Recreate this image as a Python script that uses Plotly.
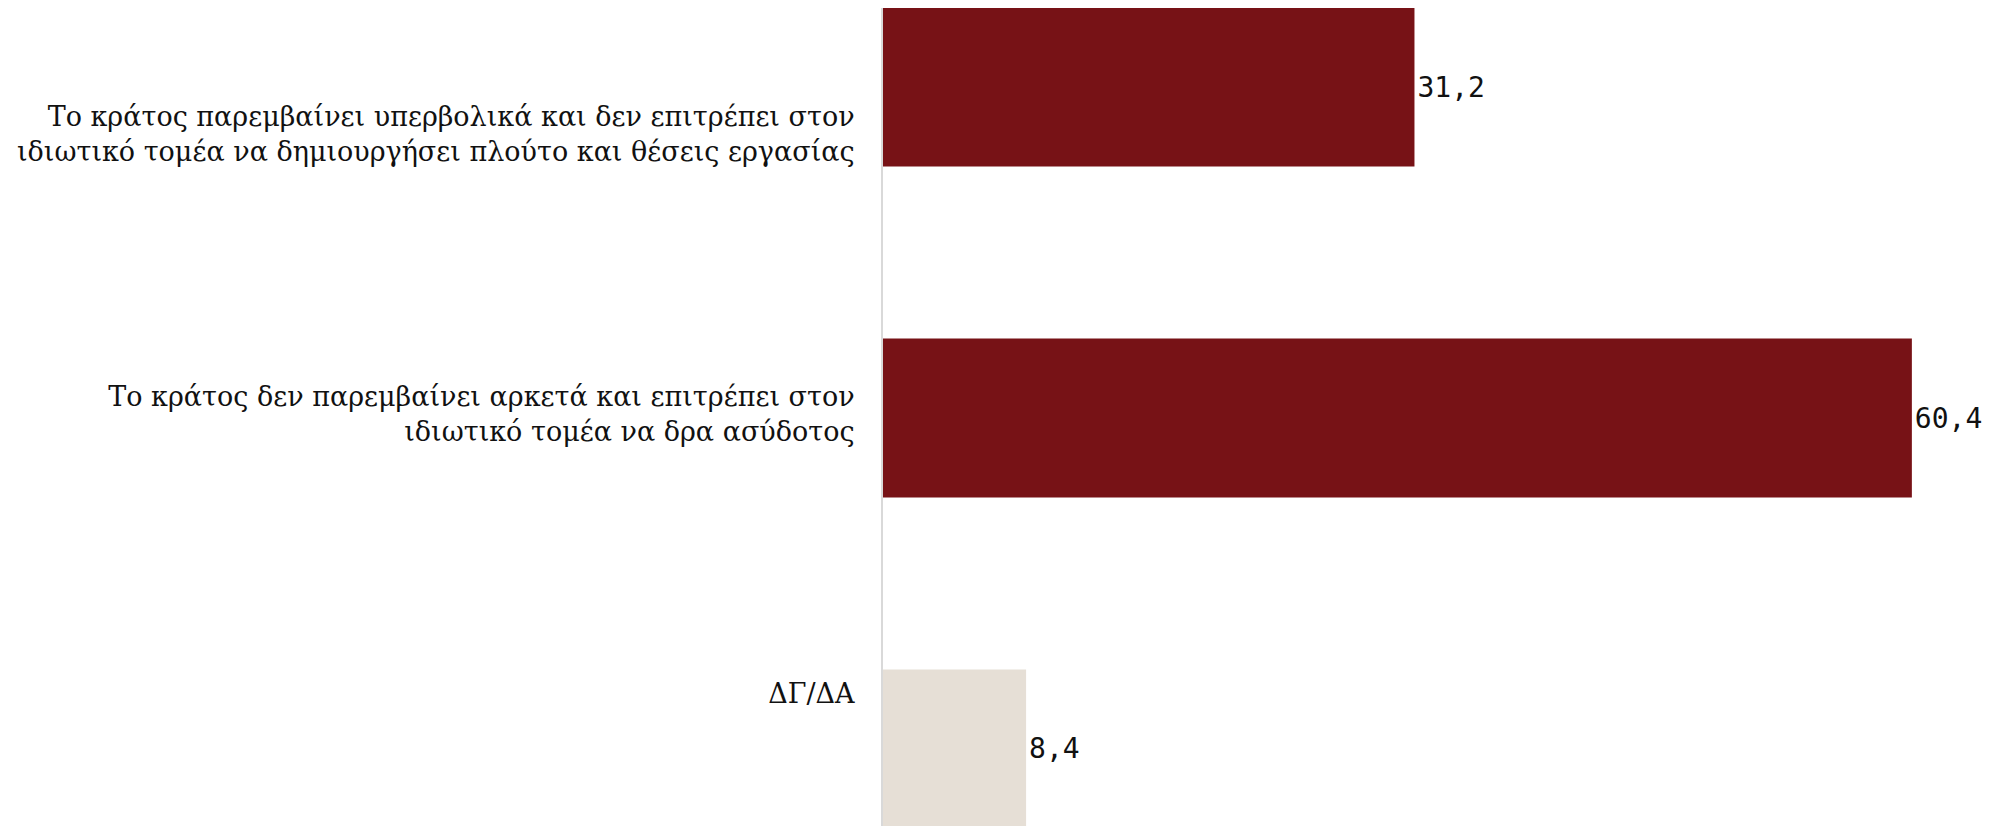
import plotly.graph_objects as go

# απαντήσεις (με τη σειρά του γραφήματος, από πάνω προς τα κάτω)
categories = [
    "Το κράτος παρεμβαίνει υπερβολικά και δεν επιτρέπει στον<br>ιδιωτικό τομέα να δημιουργήσει πλούτο και θέσεις εργασίας",
    "Το κράτος δεν παρεμβαίνει αρκετά και επιτρέπει στον<br>ιδιωτικό τομέα να δρα ασύδοτος",
    "ΔΓ/ΔΑ",
]
values = [31.2, 60.4, 8.4]
bar_colors = ["#771216", "#771216", "#e6dfd6"]

fig = go.Figure()

fig.add_trace(go.Bar(
    x=values, y=categories, orientation="h",
    marker=dict(color=bar_colors, line=dict(width=0)),
    width=0.48,
    texttemplate="%{x:.1f}", textposition="outside", cliponaxis=False,
    textfont=dict(family="DejaVu Sans Mono", size=28, color="#111111"),
    hoverinfo="skip",
))

# δεύτερος άξονας μόνο για τις ετικέτες των κατηγοριών (λίγο πιο πυκνές από τις μπάρες)
fig.add_trace(go.Scatter(
    x=[0] * len(categories), y=categories, yaxis="y2",
    mode="markers", marker=dict(size=0, opacity=0),
    hoverinfo="skip", showlegend=False,
))

fig.update_layout(
    width=1995, height=826,
    margin={"r": 0, "t": 0, "l": 875, "b": 0},
    plot_bgcolor="white", paper_bgcolor="white",
    separators=", ",
    showlegend=False,
    bargap=0.52,
    xaxis=dict(range=[0, 65.75], showgrid=False, zeroline=False,
               showticklabels=False, ticks="", automargin=False),
    yaxis=dict(type="category", categoryarray=categories,
               range=[2.257, -0.239], showticklabels=False, ticks="",
               showgrid=False, zeroline=False, automargin=False,
               showline=True, linecolor="#d9d9d9", linewidth=2),
    yaxis2=dict(type="category", categoryarray=categories,
                overlaying="y", side="left", anchor="x",
                range=[2.50, -0.45], showgrid=False, zeroline=False,
                showline=False, ticks="outside", ticklen=22,
                tickcolor="rgba(0,0,0,0)", automargin=False,
                tickfont=dict(family="DejaVu Serif", size=27, color="#111111")),
)

fig.write_html("out.html")
